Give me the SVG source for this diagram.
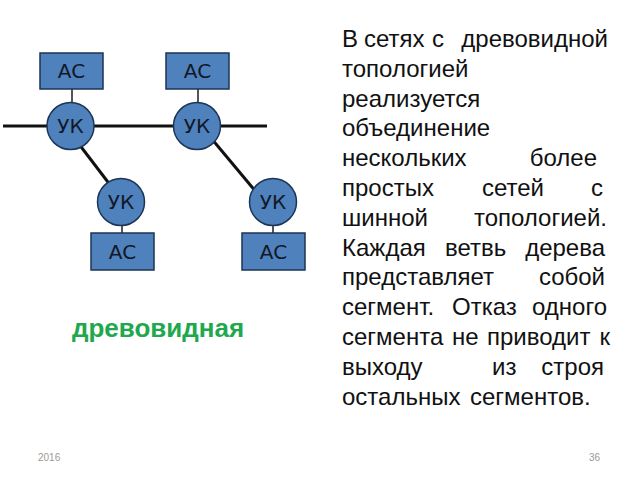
<svg xmlns="http://www.w3.org/2000/svg" width="640" height="480" viewBox="0 0 640 480">
<style>
.box{fill:#4f81bd;stroke:#1b3556;stroke-width:1.5}
.uk{fill:#4f81bd;stroke:#1b3556;stroke-width:1.5}
.lbl{font-family:"DejaVu Sans",sans-serif;font-size:20px;fill:#111827;text-anchor:middle}
.bus{stroke:#111;stroke-width:3;fill:none}
.tap{stroke:#555;stroke-width:2;fill:none}
.t{font-family:"Liberation Sans",Arial,sans-serif;font-size:24px;fill:#111}
.e{text-anchor:end}
.foot{font-family:"Liberation Sans",sans-serif;font-size:10px;fill:#999}
</style>
<rect width="640" height="480" fill="#fff"/>
<g id="connectors">
<line class="bus" x1="3" y1="126" x2="267" y2="126"/>
<line class="bus" x1="72" y1="135" x2="114" y2="190"/>
<line class="bus" x1="206" y1="132" x2="262" y2="199"/>
<line class="tap" x1="72" y1="89" x2="72" y2="103"/>
<line class="tap" x1="198" y1="89" x2="198" y2="103"/>
<line class="tap" x1="122" y1="225" x2="122" y2="233"/>
<line class="tap" x1="273" y1="225" x2="273" y2="233"/>
</g>
<g id="ac1"><rect class="box" x="40" y="53" width="63" height="36"/><text class="lbl" x="71.5" y="78">АС</text></g>
<g id="ac2"><rect class="box" x="166" y="53" width="63" height="36"/><text class="lbl" x="197.5" y="78">АС</text></g>
<g id="uk1"><circle class="uk" cx="70.5" cy="126" r="23.5"/><text class="lbl" x="70.5" y="133">УК</text></g>
<g id="uk2"><circle class="uk" cx="197" cy="126" r="23.5"/><text class="lbl" x="197" y="133">УК</text></g>
<g id="uk3"><circle class="uk" cx="121" cy="202" r="23.5"/><text class="lbl" x="121" y="209">УК</text></g>
<g id="uk4"><circle class="uk" cx="273" cy="202" r="23.5"/><text class="lbl" x="273" y="209">УК</text></g>
<g id="ac3"><rect class="box" x="91" y="233" width="63" height="37"/><text class="lbl" x="122.5" y="259">АС</text></g>
<g id="ac4"><rect class="box" x="242" y="233" width="63" height="37"/><text class="lbl" x="273.5" y="259">АС</text></g>
<g id="caption"><text x="158" y="337" text-anchor="middle" font-family="'Liberation Sans',sans-serif" font-weight="bold" font-size="26" fill="#21a84e">древовидная</text></g>
<g id="body" class="t">
<text x="342" y="47">В</text><text x="364" y="47">сетях</text><text x="432" y="47">с</text><text class="e" x="608" y="47">древовидной</text>
<text x="342" y="77">топологией</text>
<text x="342" y="107">реализуется</text>
<text x="342" y="136">объединение</text>
<text x="342" y="166">нескольких</text><text class="e" x="597" y="166">более</text>
<text x="342" y="196">простых</text><text x="482" y="196">сетей</text><text class="e" x="603" y="196">с</text>
<text x="342" y="226">шинной</text><text class="e" x="607" y="226">топологией.</text>
<text x="342" y="256">Каждая</text><text x="445" y="256">ветвь</text><text class="e" x="605" y="256">дерева</text>
<text x="342" y="285">представляет</text><text class="e" x="605" y="285">собой</text>
<text x="342" y="315">сегмент.</text><text x="452" y="315">Отказ</text><text class="e" x="607" y="315">одного</text>
<text x="342" y="345">сегмента</text><text x="452" y="345">не</text><text x="487" y="345">приводит</text><text class="e" x="610" y="345">к</text>
<text x="342" y="375">выходу</text><text x="492" y="375">из</text><text class="e" x="604" y="375">строя</text>
<text x="342" y="405">остальных</text><text x="470" y="405">сегментов.</text>
</g>
<g id="footer"><text class="foot" x="38" y="461">2016</text><text class="foot" x="600" y="461" text-anchor="end">36</text></g>
</svg>
